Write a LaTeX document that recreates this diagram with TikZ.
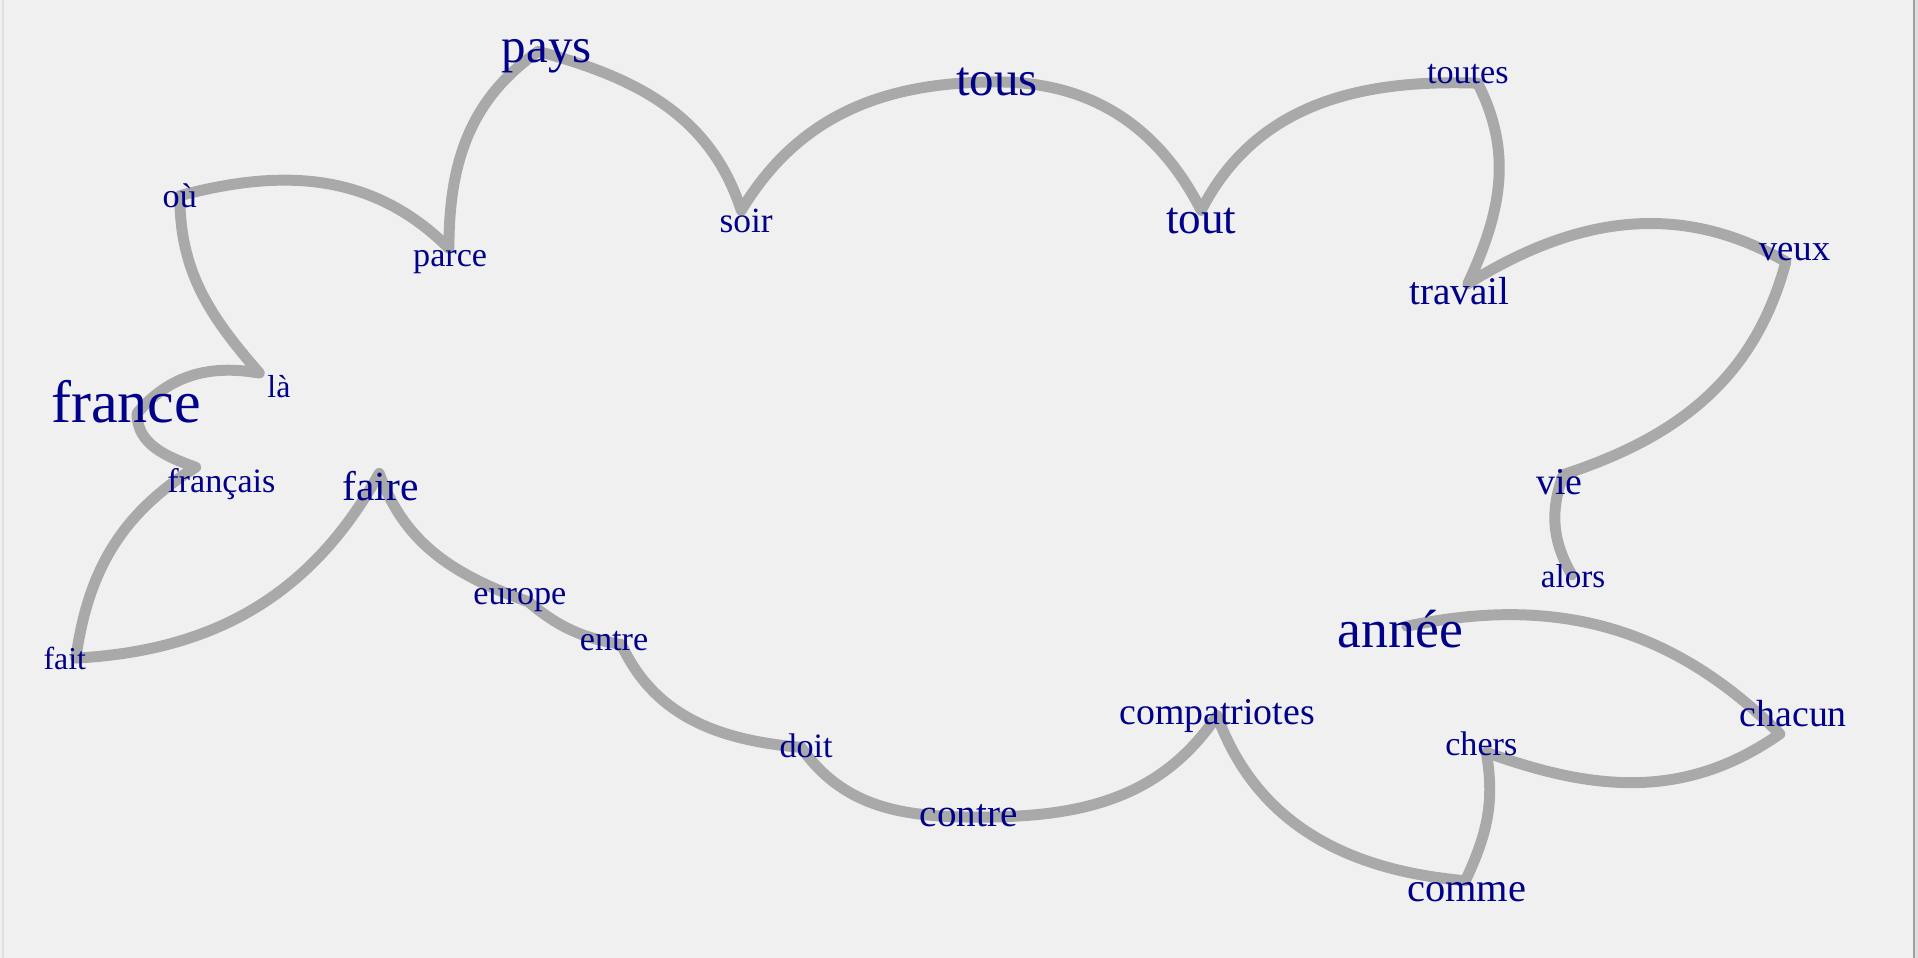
\documentclass[tikz,border=0pt]{standalone}
\usepackage{fontspec}
\setmainfont{Liberation Serif}
\definecolor{wordblue}{RGB}{0,0,139}
\definecolor{linkgray}{RGB}{169,169,169}
\definecolor{panelbg}{RGB}{240,240,240}
\begin{document}
\begin{tikzpicture}[x=0.02cm,y=-0.02cm,
   word/.style={text=wordblue,inner sep=0pt,anchor=base,font=\fontsize{#1}{#1}\selectfont},
   link/.style={draw=linkgray,line width=5.1pt,line cap=round,line join=round}]
  \fill[panelbg] (0,0) rectangle (1568,783);
  \useasboundingbox (0,0) rectangle (1568,783);
  \draw[gray!25,line width=1pt] (2.4,0) -- (2.4,783);
  \draw[gray!75,line width=1.2pt] (1564.7,0) -- (1564.7,783);
  \draw[gray!25,line width=1.2pt] (1566.8,0) -- (1566.8,783);

  \coordinate (alors) at (1285,470);
  \coordinate (vie) at (1278,388);
  \coordinate (veux) at (1460,214);
  \coordinate (travail) at (1200,232);
  \coordinate (toutes) at (1208,68);
  \coordinate (tout) at (982,172);
  \coordinate (tous) at (815,67);
  \coordinate (soir) at (606,172);
  \coordinate (pays) at (440,42);
  \coordinate (parce) at (367,203);
  \coordinate (ou) at (147,160);
  \coordinate (la) at (212,305);
  \coordinate (france) at (112,338);
  \coordinate (francais) at (160,382);
  \coordinate (fait) at (62,538);
  \coordinate (faire) at (310,387);
  \coordinate (europe) at (432,492);
  \coordinate (entre) at (508,527);
  \coordinate (doit) at (655,611);
  \coordinate (contre) at (800,668);
  \coordinate (compatriotes) at (995,585);
  \coordinate (comme) at (1198,720);
  \coordinate (chers) at (1215,615);
  \coordinate (chacun) at (1455,600);
  \coordinate (annee) at (1150,512);

  \draw[link] (alors) to[out=120,in=250] (vie)
   to[out=18,in=255] (veux)
   to[out=150,in=32] (travail)
   to[out=65,in=297] (toutes)
   to[out=178,in=63] (tout)
   to[out=117,in=0] (tous)
   to[out=180,in=59] (soir)
   to[out=108,in=345] (pays)
   to[out=215,in=90] (parce)
   to[out=135,in=15] (ou)
   to[out=270,in=131] (la)
   to[out=170,in=50] (france)
   to[out=270,in=160] (francais)
   to[out=212,in=82] (fait)
   to[out=3,in=241] (faire)
   to[out=290,in=160] (europe)
   to[out=320,in=170] (entre)
   to[out=295,in=175] (doit)
   to[out=305,in=180] (contre)
   to[out=0,in=236] (compatriotes)
   to[out=290,in=175] (comme)
   to[out=65,in=280] (chers)
   to[out=340,in=215] (chacun)
   to[out=135,in=12] (annee);

  \node[word=22.8pt] (pays-t) at (447,51) {pays};
  \node[word=22.8pt] (tous-t) at (815,78) {tous};
  \node[word=15.9pt] (toutes-t) at (1200,68) {toutes};
  \node[word=15.9pt] (ou-t) at (147,170) {où};
  \node[word=16.5pt] (soir-t) at (610,190) {soir};
  \node[word=21pt] (tout-t) at (982,191) {tout};
  \node[word=17.1pt] (veux-t) at (1467,213) {veux};
  \node[word=15.9pt] (parce-t) at (368,218) {parce};
  \node[word=18.2pt] (travail-t) at (1193,249) {travail};
  \node[word=14.8pt] (la-t) at (228,325) {là};
  \node[word=27.9pt] (france-t) at (103,345) {france};
  \node[word=15.9pt] (francais-t) at (181,403) {français};
  \node[word=17.6pt] (vie-t) at (1275,404) {vie};
  \node[word=19.3pt] (faire-t) at (311,409) {faire};
  \node[word=15.4pt] (alors-t) at (1286,480) {alors};
  \node[word=15.9pt] (europe-t) at (425,494) {europe};
  \node[word=25pt] (annee-t) at (1145,529) {année};
  \node[word=15.9pt] (entre-t) at (502,532) {entre};
  \node[word=14.8pt] (fait-t) at (53,547) {fait};
  \node[word=17.6pt] (compatriotes-t) at (995,592) {compatriotes};
  \node[word=17.6pt] (chacun-t) at (1466,594) {chacun};
  \node[word=15.9pt] (chers-t) at (1211,618) {chers};
  \node[word=15.9pt] (doit-t) at (659,619) {doit};
  \node[word=18.2pt] (contre-t) at (792,676) {contre};
  \node[word=18.8pt] (comme-t) at (1199,737) {comme};
\end{tikzpicture}
\end{document}
